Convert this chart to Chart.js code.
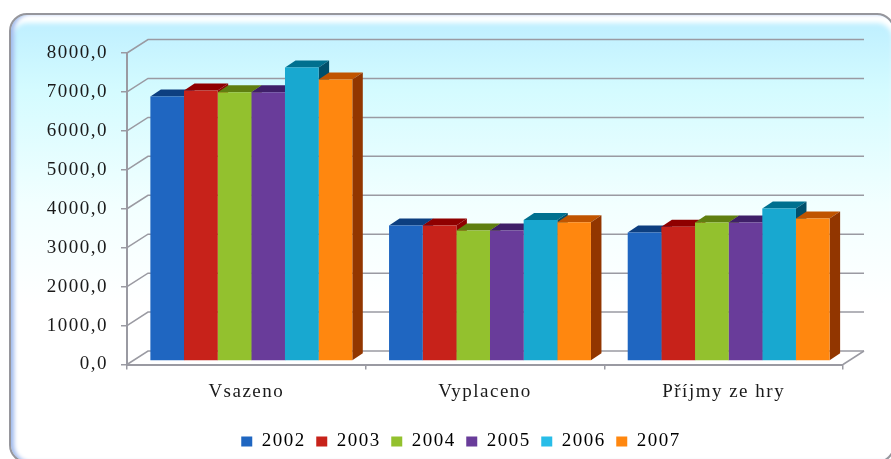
<!DOCTYPE html>
<html>
<head>
<meta charset="utf-8">
<script src="https://cdn.jsdelivr.net/npm/chart.js@4"></script>
<style>
    html, body { margin: 0; padding: 0; background: #fff; overflow: hidden; }
    #wrap { position: relative; width: 891px; height: 459px; overflow: hidden; }
    /* 圆角背景框 */
    #frame {
        position: absolute; left: 9px; top: 13px; width: 882px; height: 446px;
        border: 2px solid #96969c; border-radius: 18px;
        background: linear-gradient(#bdeeff 0, #d4fbff 75px, #f2ffff 190px, #fff 290px);
        box-shadow: inset 4px 0 4px -1px #9db8ec, inset 0 8px 5px #fff;
    }
    canvas { position: absolute; left: 0; top: 0; }
</style>
</head>
<body>
<div id="wrap">
    <div id="frame"></div>
    <canvas id="chart" width="891" height="459"></canvas>
</div>
<script>
// 数据
const categories = ['Vsazeno', 'Vyplaceno', 'Příjmy ze hry'];
const years = ['2002', '2003', '2004', '2005', '2006', '2007'];
const values2002 = [6790, 3480, 3300];
const values2003 = [6950, 3480, 3450];
const values2004 = [6905, 3350, 3555];
const values2005 = [6905, 3350, 3555];
const values2006 = [7540, 3620, 3915];
const values2007 = [7230, 3565, 3660];
const yTicks = [0, 1000, 2000, 3000, 4000, 5000, 6000, 7000, 8000];

// 颜色
const frontColors = ['#1f66c1', '#c7221a', '#93c12e', '#693c9a', '#18a8d0', '#ff870f'];
const topColors = ['#0d3f80', '#8f0000', '#5f7f10', '#3f1f68', '#00708f', '#c05400'];
const sideColors = ['#0d3f80', '#8f0000', '#5f7f10', '#3f1f68', '#004f6b', '#923600'];
const legendColors = ['#1f66c1', '#c7221a', '#93c12e', '#693c9a', '#28bde8', '#ff870f'];
const GRID_COLOR = '#9a9aa2';
const TEXT_COLOR = '#1a1a1a';
const FONT = { family: '"Liberation Serif", serif', size: 19 };

// 3D 偏移
const WALL_DX = 21, WALL_DY = -13.5;
const BAR_SHIFT_X = 5, BAR_SHIFT_Y = -3.5;
const DEPTH_DX = 10.5, DEPTH_DY = -7;
// 图例位置微调
const LEGEND_DX = 21.5, LEGEND_DY = -4;

function poly(ctx, color, pts) {
    ctx.fillStyle = color;
    ctx.beginPath();
    pts.forEach((p, i) => i ? ctx.lineTo(p[0], p[1]) : ctx.moveTo(p[0], p[1]));
    ctx.closePath();
    ctx.fill();
}

const fake3d = {
    id: 'fake3d',
    afterLayout(chart) {
        chart.legend.left += LEGEND_DX;
        chart.legend.right += LEGEND_DX;
        chart.legend.top += LEGEND_DY;
    },
    beforeDraw(chart) {
        // 文字拉宽
        chart.ctx.letterSpacing = '1.5px';
    },
    beforeDatasetsDraw(chart) {
        const ctx = chart.ctx;
        const y = chart.scales.y;
        const a = chart.chartArea;
        // 背墙和侧墙网格线
        ctx.save();
        ctx.strokeStyle = GRID_COLOR;
        ctx.lineWidth = 1.5;
        yTicks.forEach(v => {
            const py = y.getPixelForValue(v);
            ctx.beginPath();
            ctx.moveTo(a.left, py);
            ctx.lineTo(a.left + WALL_DX, py + WALL_DY);
            ctx.lineTo(a.right + WALL_DX, py + WALL_DY);
            ctx.stroke();
        });
        ctx.beginPath();
        ctx.moveTo(a.right, a.bottom);
        ctx.lineTo(a.right + WALL_DX, a.bottom + WALL_DY);
        ctx.stroke();
        ctx.restore();

        // 柱子的顶面和侧面，从左到右
        ctx.save();
        ctx.translate(BAR_SHIFT_X, BAR_SHIFT_Y);
        categories.forEach((c, i) => {
            years.forEach((yr, d) => {
                const bar = chart.getDatasetMeta(d).data[i];
                const l = bar.x - bar.width / 2, r = bar.x + bar.width / 2;
                poly(ctx, topColors[d], [[l, bar.y], [l + DEPTH_DX, bar.y + DEPTH_DY], [r + DEPTH_DX, bar.y + DEPTH_DY], [r, bar.y]]);
                poly(ctx, sideColors[d], [[r, bar.y], [r + DEPTH_DX, bar.y + DEPTH_DY], [r + DEPTH_DX, bar.base + DEPTH_DY], [r, bar.base]]);
            });
        });
        ctx.restore();

        // 正面由库绘制，整体平移
        ctx.save();
        ctx.translate(BAR_SHIFT_X, BAR_SHIFT_Y);
    },
    afterDatasetsDraw(chart) {
        chart.ctx.restore();
    }
};

const seriesValues = [values2002, values2003, values2004, values2005, values2006, values2007];

new Chart(document.getElementById('chart').getContext('2d'), {
    type: 'bar',
    data: {
        labels: categories,
        datasets: years.map((yr, d) => ({
            label: yr,
            data: seriesValues[d],
            backgroundColor: frontColors[d],
            borderWidth: 0,
            categoryPercentage: 0.846,
            barPercentage: 1
        }))
    },
    plugins: [fake3d],
    options: {
        responsive: false,
        animation: false,
        clip: false,
        layout: { padding: { left: 0, right: 48, top: 53, bottom: -6 } },
        plugins: {
            tooltip: { enabled: false },
            legend: {
                position: 'bottom',
                labels: {
                    boxWidth: 11,
                    boxHeight: 10,
                    padding: 10.5,
                    color: TEXT_COLOR,
                    font: FONT,
                    generateLabels: chart => years.map((yr, d) => ({
                        text: yr,
                        fillStyle: legendColors[d],
                        strokeStyle: legendColors[d],
                        lineWidth: 0,
                        datasetIndex: d
                    }))
                }
            }
        },
        scales: {
            x: {
                grid: { display: true, drawOnChartArea: false, offset: true, color: GRID_COLOR, lineWidth: 1.5, tickLength: 5 },
                border: { color: GRID_COLOR, width: 2 },
                ticks: { color: TEXT_COLOR, font: FONT, padding: 11, maxRotation: 0 },
                afterFit: s => { s.height = 61; }
            },
            y: {
                min: 0,
                max: 8000,
                grid: { display: true, drawOnChartArea: false, color: GRID_COLOR, lineWidth: 1.5, tickLength: 6 },
                border: { color: GRID_COLOR, width: 2 },
                ticks: {
                    stepSize: 1000,
                    color: TEXT_COLOR,
                    font: FONT,
                    padding: 13,
                    callback: v => v.toFixed(1).replace('.', ',')
                },
                afterFit: s => { s.width = 127; }
            }
        }
    }
});
</script>
</body>
</html>
